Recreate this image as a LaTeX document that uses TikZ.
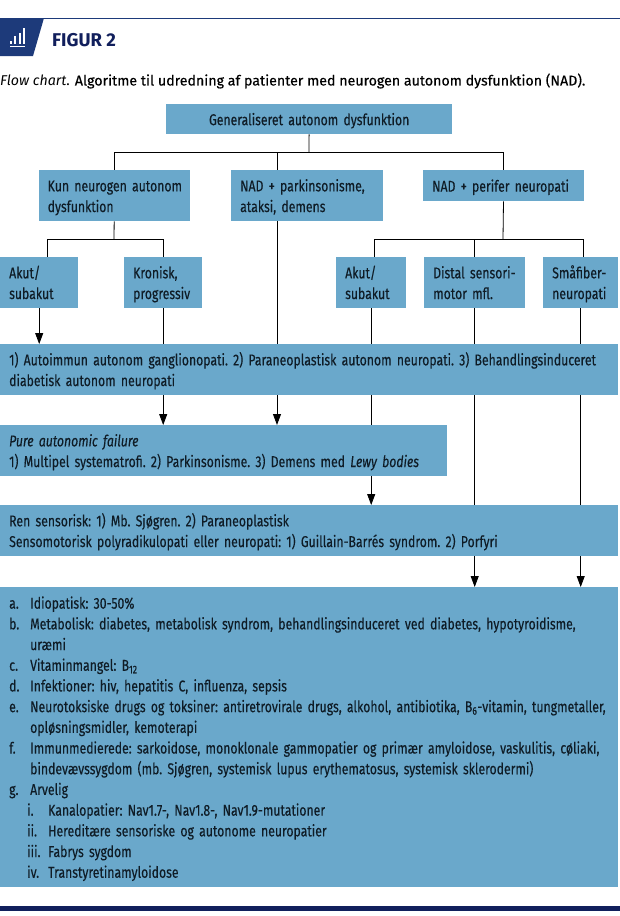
\documentclass[tikz,border=0pt]{standalone}
\usepackage{fontspec}
\setmainfont[FakeStretch=0.78,FakeBold=0.25,WordSpace=0.75]{Fira Sans}
\newfontfamily\capfont{Fira Sans}
\newfontfamily\capbold[FakeBold=0.3]{Fira Sans}
\usepackage{xcolor}
\usetikzlibrary{
  arrows.meta,
  backgrounds
}
\definecolor{boxblue}{RGB}{106,168,203}
\definecolor{tagblue}{RGB}{29,58,122}
\definecolor{titlenavy}{RGB}{17,31,92}
\definecolor{inkdark}{RGB}{15,28,38}
\tikzset{
  box/.style={fill=boxblue,text=inkdark,align=left,anchor=north west,
    inner xsep=9pt,inner ysep=0pt,font=\fontsize{15.7}{20.7}\selectfont,
    execute at begin node={\frenchspacing\rule{0pt}{16pt}},
    execute at end node={\rule[-4pt]{0pt}{4pt}}},
  bus/.style={draw=black,line width=0.8pt},
  flow/.style={-{Triangle[length=11pt,width=8pt]},draw=black,line width=0.8pt}
}
\newcommand{\itm}[2]{\makebox[21pt][l]{#1}#2}
\newcommand{\subitm}[2]{\hspace*{18pt}\makebox[21pt][l]{#1}#2}
\begin{document}
\begin{tikzpicture}[x=1pt,y=-1pt]
  \useasboundingbox (0,0) rectangle (620,916);
  % header
  \fill[tagblue] (0,18)--(44,18)--(33,56)--(0,56)--cycle;
  \draw[tagblue,line width=0.8pt] (0,18)--(620,18);
  \foreach \xa/\ya in {10/41,14/36,18.5/33,23/28}
    \fill[white] (\xa,\ya) rectangle ++(2.2,-\ya+44);
  \fill[white] (9.5,45.5) rectangle (25,47);
  \node[anchor=west,inner sep=0pt,text=titlenavy,font=\capfont\fontsize{18.5}{20}\bfseries\selectfont] (figtitle) at (52,40.5) {FIGUR 2};
  \node[anchor=west,inner sep=0pt,text=black,font=\capfont\fontsize{14.2}{18}\selectfont] (caption) at (0,81)
    {\textit{Flow chart}. {\capbold Algoritme til udredning af patienter med neurogen autonom dysfunktion (NAD).}};
  % boxes
  \node[box,align=center,text width=268pt,minimum height=30pt] (top) at (166,104) {Generaliseret autonom dysfunktion};
  \node[box,text width=133.5pt,minimum height=51pt] (kun) at (38.5,170) {\mbox{Kun neurogen autonom}\\dysfunktion};
  \node[box,text width=134pt,minimum height=51pt] (park) at (231,170) {NAD + parkinsonisme,\\ataksi, demens};
  \node[box,text width=143pt,minimum height=31pt] (perifer) at (423,170) {NAD + perifer neuropati};
  \node[box,text width=60pt,minimum height=51pt] (akuta) at (0,257) {Akut/\\subakut};
  \node[box,text width=60pt,minimum height=51pt] (kronisk) at (124,257) {Kronisk,\\progressiv};
  \node[box,text width=52pt,minimum height=51pt] (akutb) at (336,257) {Akut/\\subakut};
  \node[box,text width=83pt,minimum height=51pt] (distal) at (424,257) {Distal sensori-\\motor mfl.};
  \node[box,text width=57pt,minimum height=51pt] (smaa) at (543,257) {Småfiber-\\neuropati};
  \node[box,text width=600pt,minimum height=51pt] (gang) at (0,344)
    {1) Autoimmun autonom ganglionopati. 2) Paraneoplastisk autonom neuropati. 3) Behandlingsinduceret\\diabetisk autonom neuropati};
  \node[box,text width=429pt,minimum height=51pt] (pure) at (0,425)
    {\textit{Pure autonomic failure}\\1) Multipel systematrofi. 2) Parkinsonisme. 3) Demens med \textit{Lewy bodies}};
  \node[box,text width=600pt,minimum height=51pt] (sens) at (0,505)
    {Ren sensorisk: 1) Mb. Sjøgren. 2) Paraneoplastisk\\Sensomotorisk polyradikulopati eller neuropati: 1) Guillain-Barrés syndrom. 2) Porfyri};
  \node[box,text width=600pt,minimum height=300pt] (causes) at (0,587)
    {\itm{a.}{Idiopatisk: 30-50\%}\\
     \itm{b.}{Metabolisk: diabetes, metabolisk syndrom, behandlingsinduceret ved diabetes, hypotyroidisme,}\\
     \itm{}{uræmi}\\
     \itm{c.}{Vitaminmangel: B\textsubscript{12}}\\
     \itm{d.}{Infektioner: hiv, hepatitis C, influenza, sepsis}\\
     \itm{e.}{Neurotoksiske drugs og toksiner: antiretrovirale drugs, alkohol, antibiotika, B\textsubscript{6}-vitamin, tungmetaller,}\\
     \itm{}{opløsningsmidler, kemoterapi}\\
     \itm{f.}{Immunmedierede: sarkoidose, monoklonale gammopatier og primær amyloidose, vaskulitis, cøliaki,}\\
     \itm{}{bindevævssygdom (mb. Sjøgren, systemisk lupus erythematosus, systemisk sklerodermi)}\\
     \itm{g.}{Arvelig}\\
     \subitm{i.}{Kanalopatier: Nav1.7-, Nav1.8-, Nav1.9-mutationer}\\
     \subitm{ii.}{Hereditære sensoriske og autonome neuropatier}\\
     \subitm{iii.}{Fabrys sygdom}\\
     \subitm{iv.}{Transtyretinamyloidose}};
  % bottom rule
  \fill[titlenavy] (0,906) rectangle (620,911);
  % connectors behind the boxes
  \begin{scope}[on background layer]
    \coordinate (topbus) at (309,152);
    \coordinate (kunbus) at (114,239);
    \coordinate (perbus) at (503,239);
    \draw[bus] (top)--(topbus);
    \draw[bus] (kun |- topbus)--(perifer |- topbus);
    \draw[bus] (kun |- topbus)--(kun);
    \draw[bus] (277,152)--(277,170);
    \draw[bus] (perifer |- topbus)--(perifer);
    \draw[bus] (kun)--(kunbus);
    \draw[bus] (47,239)--(kronisk |- kunbus);
    \draw[bus] (47,239)--(47,257);
    \draw[bus] (kronisk |- kunbus)--(kronisk);
    \draw[bus] (perifer)--(perbus);
    \draw[bus] (374,239)--(583,239);
    \draw[bus] (374,239)--(374,257);
    \draw[bus] (distal |- perbus)--(distal);
    \draw[bus] (583,239)--(583,257);
    \draw[flow] (akuta)--(akuta |- gang.north);
    \draw[flow] (kronisk)--(kronisk |- pure.north);
    \draw[flow] (277,221)--(277,425);
    \draw[flow] (akutb)--(akutb |- sens.north);
    \draw[flow] (distal)--(distal |- causes.north);
    \draw[flow] (smaa)--(smaa |- causes.north);
  \end{scope}
\end{tikzpicture}
\end{document}
